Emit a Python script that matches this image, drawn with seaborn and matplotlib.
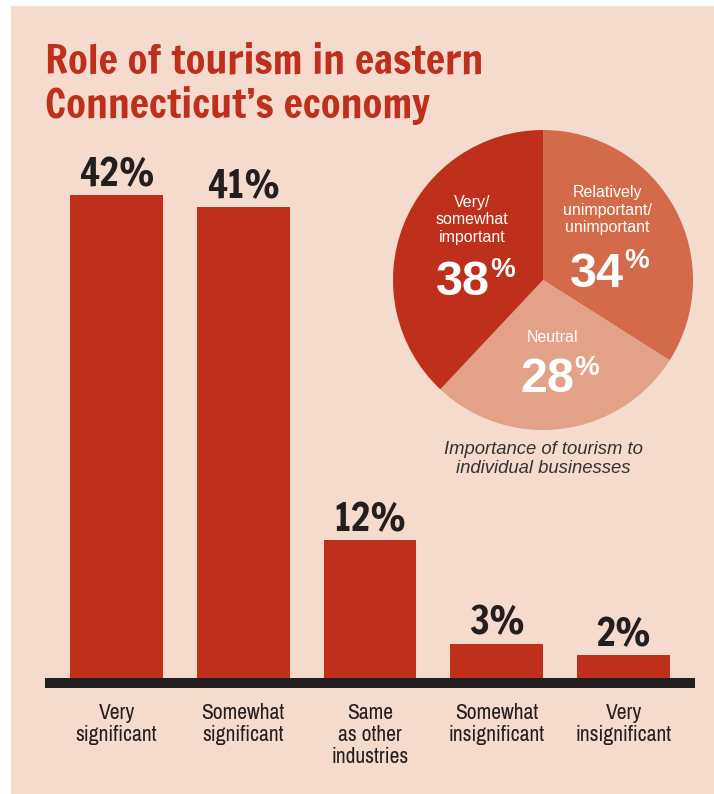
import matplotlib
matplotlib.use("Agg")
import matplotlib.pyplot as plt
from matplotlib import font_manager
from matplotlib.patches import Rectangle
import seaborn as sns
import pandas as pd

# ---- data -------------------------------------------------------------
categories = ["Very\nsignificant", "Somewhat\nsignificant", "Same\nas other\nindustries",
              "Somewhat\ninsignificant", "Very\ninsignificant"]
shares = [42, 41, 12, 3, 2]

pie_labels = ["Relatively\nunimportant/\nunimportant", "Neutral", "Very/\nsomewhat\nimportant"]
pie_values = [34, 28, 38]

title_lines = ["Role of tourism in eastern", "Connecticut\u2019s economy"]
caption = "Importance of tourism to\nindividual businesses"

# ---- styling ----------------------------------------------------------
BG = "#F5DACE"
RED = "#BE301C"
MID = "#D36B4A"
LIGHT = "#E3A287"
INK = "#231F20"

available = {f.name for f in font_manager.fontManager.ttflist}


def pick_font(*names):
    for n in names:
        if n in available:
            return n
    return "DejaVu Sans"


HEAVY_COND = pick_font("Francois One", "Fjalla One", "Oswald", "Liberation Sans Narrow", "Liberation Sans")
NARROW = pick_font("Archivo Narrow", "Roboto Condensed", "Liberation Sans Narrow", "Liberation Sans")
SANS = pick_font("Liberation Sans", "Arial", "DejaVu Sans")

sns.set_theme(style="white")
plt.rcParams["font.family"] = [SANS, "DejaVu Sans"]

W, H = 714, 794
fig = plt.figure(figsize=(W / 100, H / 100), dpi=100, facecolor="white")


def fx(px):
    return px / W


def fy(py):
    return 1 - py / H


# peach panel behind everything
fig.patches.append(Rectangle((fx(11), 0), 1 - fx(11), fy(6), transform=fig.transFigure,
                             facecolor=BG, edgecolor="none", zorder=-5))

# title
for line, base in zip(title_lines, (73, 118)):
    fig.text(fx(45), fy(base), line, family=HEAVY_COND, size=29.2,
             color=RED, va="baseline", ha="left")

# ---- bar chart --------------------------------------------------------
px_per_unit = 11.5
band_px = 10
ax_bottom, ax_top = 688, 150
ax = fig.add_axes([fx(45), fy(ax_bottom), fx(650), (ax_bottom - ax_top) / H])
ax.set_facecolor("none")

df = pd.DataFrame({"category": categories, "share": shares})
sns.barplot(data=df, x="category", y="share", color=RED, saturation=1, width=0.73,
            linewidth=0, edgecolor="none", ax=ax, zorder=2)

band = band_px / px_per_unit
ax.set_ylim(-band, (ax_bottom - ax_top) / px_per_unit - band)
ax.set_xlim(-0.564, 4.564)
ax.axhspan(-band, 0, color=INK, zorder=3, lw=0)

for i, v in enumerate(shares):
    ax.annotate(f"{v}%", xy=(i, v), xytext=(0, 6.5), textcoords="offset points",
                ha="center", va="baseline", family=HEAVY_COND,
                size=27.5, color=INK)

ax.set_xticks(range(len(categories)))
ax.set_xticklabels(categories, family=NARROW, size=15.5, color=INK, linespacing=1.13, va="top")
ax.tick_params(axis="x", length=0, pad=11)
ax.set_yticks([])
ax.set_xlabel("")
ax.set_ylabel("")
for s in ax.spines.values():
    s.set_visible(False)

# ---- pie --------------------------------------------------------------
cx, cy, r = 543, 280, 150
pax = fig.add_axes([fx(cx - r), fy(cy + r), 2 * r / W, 2 * r / H])
pax.pie(pie_values, colors=[MID, LIGHT, RED], startangle=90, counterclock=False,
        wedgeprops=dict(linewidth=0))
pax.set_xlim(-1, 1)
pax.set_ylim(-1, 1)
pax.set_aspect("equal")


def dx(px):
    return (px - cx) / r


def dy(py):
    return (cy - py) / r


# label blocks: (text centre x, text centre y, digits right x, digits baseline y, percent top y)
label_layout = [
    (607, 210, 624, 287, 248),
    (553, 337, 574, 392, 355),
    (472, 220, 490, 295, 257),
]
for lab, val, (tx, ty, nx, by, pt) in zip(pie_labels, pie_values, label_layout):
    pax.text(dx(tx), dy(ty), lab, ha="center", va="center", color="white",
             size=11.5, linespacing=1.18)
    pax.text(dx(nx), dy(by), f"{val}", ha="right", va="baseline", color="white",
             size=35, weight="bold")
    pax.text(dx(nx), dy(pt), "%", ha="left", va="top", color="white",
             size=20, weight="bold")

fig.text(fx(543), fy(459), caption, ha="center", va="center", style="italic",
         size=13.3, color="#333333", linespacing=1.2)

fig.savefig("out.png", dpi=100, facecolor="white")
